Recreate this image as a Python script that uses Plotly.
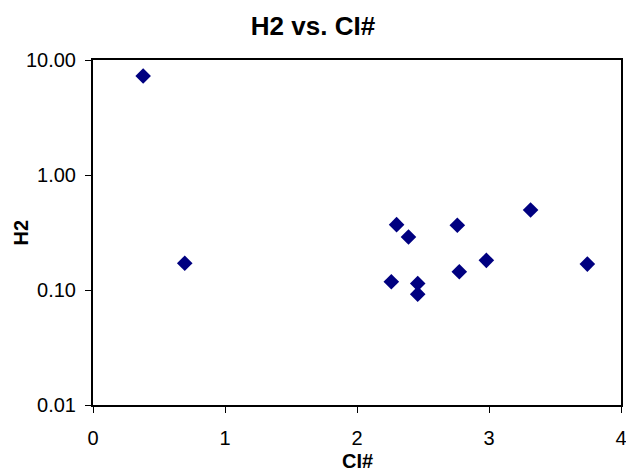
import plotly.graph_objects as go

ci = [0.38, 0.695, 2.26, 2.30, 2.39, 2.46, 2.46, 2.76, 2.775, 2.98, 3.315, 3.745]
h2 = [7.26, 0.171, 0.118, 0.370, 0.289, 0.114, 0.092, 0.366, 0.144, 0.181, 0.496, 0.168]

fig = go.Figure(go.Scatter(
    x=ci, y=h2, mode="markers",
    marker=dict(symbol="diamond", size=12, color="#000080", line=dict(width=0)),
))

font = "Liberation Sans, Arial, sans-serif"
L, R, T, B = 93, 5, 60, 65
W, H = 626, 470
pw, ph = W - L - R, H - T - B

fig.update_layout(
    width=W, height=H,
    margin=dict(l=L, r=R, t=T, b=B, autoexpand=False),
    paper_bgcolor="white", plot_bgcolor="white",
    showlegend=False,
    title=dict(text="<b>H2 vs. CI#</b>", x=0.5, xanchor="center", y=0.945, yanchor="middle",
               font=dict(family=font, size=26, color="black")),
    font=dict(family=font, size=20, color="black"),
    annotations=[
        dict(text="<b>H2</b>", xref="paper", yref="paper", x=(20 - L) / pw, y=0.5,
             xanchor="center", yanchor="middle", textangle=-90, showarrow=False,
             font=dict(family=font, size=20, color="black")),
        dict(text="<b>CI#</b>", xref="paper", yref="paper", x=0.5, y=-(448 - (H - B)) / ph,
             xanchor="center", yanchor="top", showarrow=False,
             font=dict(family=font, size=20, color="black")),
    ],
)
fig.update_xaxes(
    range=[0, 4], dtick=1, tick0=0, showgrid=False, zeroline=False, automargin=False,
    showline=True, linecolor="black", linewidth=2, mirror=True,
    ticks="outside", ticklen=6, tickcolor="black", tickwidth=1,
    tickfont=dict(size=20), ticklabelstandoff=8, ticklabeloverflow="allow",
)
fig.update_yaxes(
    type="log", range=[-2, 1], dtick=1, tickformat=".2f", showgrid=False, zeroline=False,
    automargin=False,
    showline=True, linecolor="black", linewidth=2, mirror=True,
    ticks="outside", ticklen=6, tickcolor="black", tickwidth=1,
    tickfont=dict(size=20), ticklabelstandoff=5, ticklabeloverflow="allow",
)
fig.write_html("out.html")
